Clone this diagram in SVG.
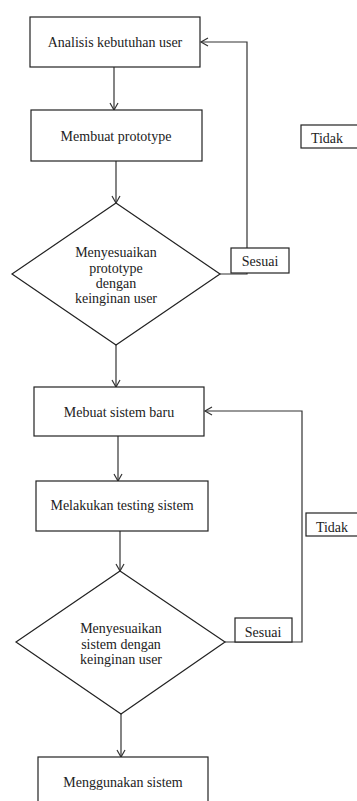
<svg xmlns="http://www.w3.org/2000/svg" width="357" height="801" viewBox="0 0 357 801">
<style>
.n{fill:#fff;stroke:#222;stroke-width:1.2}
.t{font-family:'Liberation Serif','DejaVu Serif',serif;font-size:14px;fill:#222;text-anchor:middle}
.c{fill:none;stroke:#333;stroke-width:1.2}
</style>
<defs>
<marker id="ah" markerUnits="userSpaceOnUse" markerWidth="12" markerHeight="12" refX="8" refY="5" orient="auto">
<path d="M1,1 L8,5 L1,9" fill="none" stroke="#333" stroke-width="1.2"/>
</marker>
</defs>
<rect width="357" height="801" fill="#fff"/>
<g id="connectors">
<line class="c" x1="114" y1="67" x2="114" y2="110" marker-end="url(#ah)"/>
<line class="c" x1="116" y1="161" x2="116" y2="203" marker-end="url(#ah)"/>
<polyline class="c" points="220,274 247,274 247,42 201,42" marker-end="url(#ah)"/>
<line class="c" x1="116" y1="345" x2="116" y2="387" marker-end="url(#ah)"/>
<line class="c" x1="118" y1="436" x2="118" y2="481" marker-end="url(#ah)"/>
<line class="c" x1="120" y1="531" x2="120" y2="571" marker-end="url(#ah)"/>
<polyline class="c" points="225,642 302,642 302,411 205,411" marker-end="url(#ah)"/>
<line class="c" x1="121" y1="714" x2="121" y2="757" marker-end="url(#ah)"/>
</g>
<g id="analisis">
<rect class="n" x="30" y="17" width="170" height="50"/>
<text class="t" font-family="Liberation Serif" x="115" y="47">Analisis kebutuhan user</text>
</g>
<g id="prototype">
<rect class="n" x="31" y="110" width="171" height="51"/>
<text class="t" font-family="Liberation Serif" x="116" y="141">Membuat prototype</text>
</g>
<g id="decision1">
<polygon class="n" points="116,203 220,274 116,345 12,274"/>
<text class="t" font-family="Liberation Serif" x="116" y="257">Menyesuaikan</text>
<text class="t" font-family="Liberation Serif" x="116" y="273">prototype</text>
<text class="t" font-family="Liberation Serif" x="116" y="288">dengan</text>
<text class="t" font-family="Liberation Serif" x="116" y="303">keinginan user</text>
</g>
<g id="sesuai1">
<rect class="n" x="231" y="248" width="58" height="25"/>
<text class="t" font-family="Liberation Serif" x="260" y="266">Sesuai</text>
</g>
<g id="tidak1">
<rect class="n" x="301" y="125" width="60" height="23"/>
<text class="t" font-family="Liberation Serif" x="327" y="143">Tidak</text>
</g>
<g id="sistembaru">
<rect class="n" x="34" y="387" width="170" height="49"/>
<text class="t" font-family="Liberation Serif" x="119" y="417">Mebuat sistem baru</text>
</g>
<g id="testing">
<rect class="n" x="36" y="481" width="172" height="50"/>
<text class="t" font-family="Liberation Serif" x="122" y="510">Melakukan testing sistem</text>
</g>
<g id="decision2">
<polygon class="n" points="120,571 225,642 121,714 16,642"/>
<text class="t" font-family="Liberation Serif" x="121" y="633">Menyesuaikan</text>
<text class="t" font-family="Liberation Serif" x="121" y="649">sistem dengan</text>
<text class="t" font-family="Liberation Serif" x="121" y="664">keinginan user</text>
</g>
<g id="sesuai2">
<rect class="n" x="235" y="618" width="57" height="24"/>
<text class="t" font-family="Liberation Serif" x="263" y="637">Sesuai</text>
</g>
<g id="tidak2">
<rect class="n" x="306" y="513" width="60" height="23"/>
<text class="t" font-family="Liberation Serif" x="332" y="532">Tidak</text>
</g>
<g id="menggunakan">
<rect class="n" x="38" y="757" width="170" height="52"/>
<text class="t" font-family="Liberation Serif" x="123" y="787">Menggunakan sistem</text>
</g>
</svg>
